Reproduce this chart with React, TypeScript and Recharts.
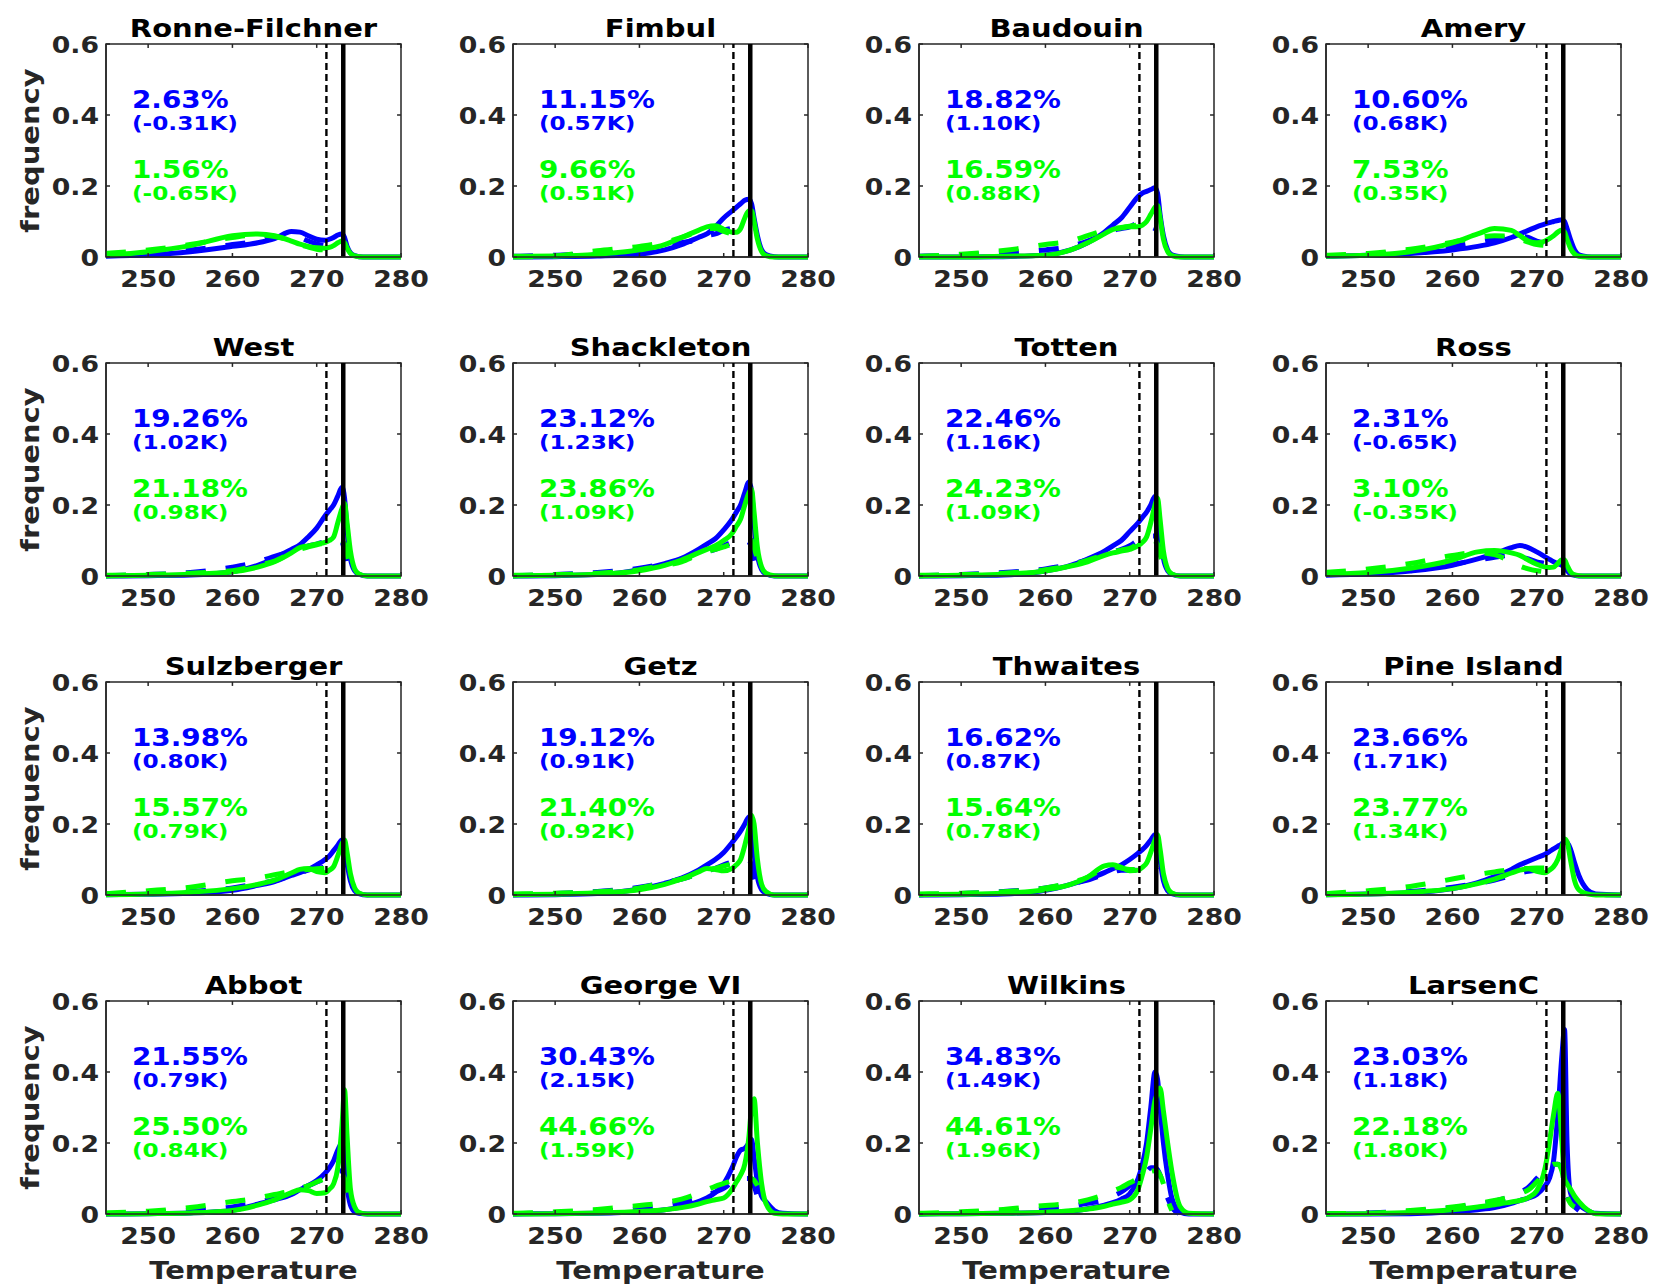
import React from 'react';
import { LineChart, Line, XAxis, YAxis, ReferenceLine, ReferenceArea } from 'recharts';

// temperature grid (K) shared by every panel
const temps = [245, 250, 255, 260, 263, 265, 267, 268, 269, 270, 271, 271.5, 272, 272.5, 273, 273.3, 273.6, 274, 274.5, 275, 276, 277, 280];

const shelfNames = [
  'Ronne-Filchner', 'Fimbul', 'Baudouin', 'Amery',
  'West', 'Shackleton', 'Totten', 'Ross',
  'Sulzberger', 'Getz', 'Thwaites', 'Pine Island',
  'Abbot', 'George VI', 'Wilkins', 'LarsenC',
];

const bluePct = ['2.63%', '11.15%', '18.82%', '10.60%', '19.26%', '23.12%', '22.46%', '2.31%', '13.98%', '19.12%', '16.62%', '23.66%', '21.55%', '30.43%', '34.83%', '23.03%'];
const blueDelta = ['(-0.31K)', '(0.57K)', '(1.10K)', '(0.68K)', '(1.02K)', '(1.23K)', '(1.16K)', '(-0.65K)', '(0.80K)', '(0.91K)', '(0.87K)', '(1.71K)', '(0.79K)', '(2.15K)', '(1.49K)', '(1.18K)'];
const greenPct = ['1.56%', '9.66%', '16.59%', '7.53%', '21.18%', '23.86%', '24.23%', '3.10%', '15.57%', '21.40%', '15.64%', '23.77%', '25.50%', '44.66%', '44.61%', '22.18%'];
const greenDelta = ['(-0.65K)', '(0.51K)', '(0.88K)', '(0.35K)', '(0.98K)', '(1.09K)', '(1.09K)', '(-0.35K)', '(0.79K)', '(0.92K)', '(0.78K)', '(1.34K)', '(0.84K)', '(1.59K)', '(1.96K)', '(1.80K)'];

const blueSolid = [
  [0.002, 0.006, 0.015, 0.03, 0.04, 0.052, 0.072, 0.07, 0.06, 0.05, 0.047, 0.05, 0.055, 0.062, 0.065, 0.055, 0.03, 0.012, 0.004, 0.001, 0, 0, 0],
  [0, 0.001, 0.003, 0.008, 0.02, 0.035, 0.055, 0.065, 0.085, 0.11, 0.13, 0.14, 0.15, 0.16, 0.163, 0.15, 0.11, 0.06, 0.02, 0.007, 0.001, 0, 0],
  [0, 0, 0.001, 0.006, 0.02, 0.04, 0.07, 0.09, 0.11, 0.14, 0.17, 0.18, 0.185, 0.19, 0.195, 0.18, 0.12, 0.06, 0.02, 0.006, 0.001, 0, 0],
  [0.002, 0.005, 0.01, 0.02, 0.03, 0.04, 0.055, 0.065, 0.075, 0.085, 0.093, 0.097, 0.1, 0.103, 0.105, 0.1, 0.08, 0.05, 0.02, 0.006, 0.001, 0, 0],
  [0, 0.001, 0.003, 0.012, 0.03, 0.05, 0.075, 0.088, 0.11, 0.135, 0.17, 0.185, 0.2, 0.225, 0.25, 0.22, 0.13, 0.05, 0.015, 0.005, 0, 0, 0],
  [0, 0.001, 0.004, 0.018, 0.035, 0.05, 0.075, 0.09, 0.105, 0.13, 0.16, 0.18, 0.2, 0.235, 0.265, 0.24, 0.15, 0.06, 0.018, 0.006, 0, 0, 0],
  [0, 0.001, 0.003, 0.014, 0.03, 0.048, 0.07, 0.085, 0.1, 0.125, 0.15, 0.165, 0.18, 0.2, 0.225, 0.2, 0.12, 0.05, 0.015, 0.005, 0, 0, 0],
  [0.002, 0.006, 0.014, 0.03, 0.048, 0.062, 0.08, 0.086, 0.08, 0.068, 0.054, 0.047, 0.04, 0.035, 0.03, 0.025, 0.015, 0.006, 0.002, 0, 0, 0, 0],
  [0.001, 0.002, 0.005, 0.013, 0.027, 0.038, 0.055, 0.063, 0.072, 0.085, 0.1, 0.11, 0.125, 0.14, 0.155, 0.14, 0.09, 0.04, 0.012, 0.004, 0, 0, 0],
  [0, 0.001, 0.004, 0.017, 0.033, 0.048, 0.07, 0.085, 0.1, 0.12, 0.148, 0.163, 0.18, 0.2, 0.22, 0.2, 0.12, 0.05, 0.015, 0.005, 0, 0, 0],
  [0, 0.001, 0.003, 0.013, 0.03, 0.045, 0.063, 0.074, 0.085, 0.1, 0.118, 0.128, 0.14, 0.155, 0.17, 0.16, 0.1, 0.04, 0.012, 0.004, 0, 0, 0],
  [0.001, 0.003, 0.006, 0.018, 0.035, 0.052, 0.072, 0.085, 0.095, 0.105, 0.115, 0.122, 0.13, 0.137, 0.145, 0.152, 0.148, 0.13, 0.09, 0.055, 0.015, 0.003, 0],
  [0, 0.001, 0.003, 0.01, 0.028, 0.04, 0.055, 0.068, 0.08, 0.094, 0.115, 0.13, 0.15, 0.18, 0.2, 0.17, 0.08, 0.025, 0.006, 0.002, 0, 0, 0],
  [0, 0.001, 0.002, 0.006, 0.012, 0.02, 0.035, 0.045, 0.06, 0.085, 0.13, 0.16, 0.18, 0.185, 0.2, 0.21, 0.16, 0.09, 0.05, 0.035, 0.01, 0.002, 0],
  [0, 0.001, 0.002, 0.004, 0.008, 0.015, 0.025, 0.032, 0.042, 0.057, 0.1, 0.14, 0.2, 0.3, 0.4, 0.38, 0.3, 0.2, 0.11, 0.045, 0.005, 0, 0],
  [0, 0, 0.001, 0.006, 0.012, 0.018, 0.03, 0.038, 0.045, 0.055, 0.08, 0.1, 0.15, 0.28, 0.45, 0.52, 0.2, 0.06, 0.035, 0.025, 0.01, 0.002, 0],
];

// dashed curves stop where the reference stops drawing them
const blueDashed = [
  [0.005, 0.01, 0.02, 0.035, 0.045, 0.055, 0.06, 0.055, 0.045, 0.037, 0.032, 0.03, 0.03, 0.03, 0.028],
  [0.002, 0.005, 0.01, 0.02, 0.03, 0.04, 0.05, 0.06, 0.065, 0.075, 0.08, 0.078, 0.072, 0.066, 0.062, 0.06],
  [0.002, 0.006, 0.012, 0.02, 0.03, 0.045, 0.065, 0.075, 0.08, 0.085, 0.095, 0.095, 0.09, 0.085, 0.08],
  [0.003, 0.008, 0.015, 0.03, 0.042, 0.05, 0.058, 0.06, 0.055, 0.045, 0.04, 0.04, 0.04, 0.04, 0.04],
  [0.001, 0.004, 0.01, 0.025, 0.04, 0.055, 0.07, 0.078, 0.085, 0.09, 0.097, 0.1, 0.1, 0.1, 0.095, 0.07, 0.03],
  [0.001, 0.004, 0.01, 0.022, 0.035, 0.045, 0.06, 0.068, 0.075, 0.085, 0.095, 0.098, 0.1, 0.1, 0.095, 0.08, 0.05, 0.02],
  [0.001, 0.004, 0.01, 0.02, 0.033, 0.045, 0.06, 0.068, 0.075, 0.085, 0.1, 0.105, 0.11, 0.113, 0.113, 0.1, 0.07, 0.03],
  [0.004, 0.01, 0.018, 0.033, 0.045, 0.053, 0.058, 0.055, 0.048, 0.04, 0.035, 0.032, 0.03, 0.03, 0.03],
  [0.002, 0.005, 0.01, 0.02, 0.032, 0.04, 0.055, 0.062, 0.07, 0.075, 0.078, 0.079, 0.08, 0.08, 0.079, 0.075],
  [0.001, 0.004, 0.01, 0.022, 0.035, 0.045, 0.06, 0.068, 0.075, 0.085, 0.093, 0.097, 0.1, 0.1, 0.097, 0.085, 0.05, 0.025, 0.01],
  [0.001, 0.004, 0.01, 0.02, 0.032, 0.042, 0.058, 0.065, 0.07, 0.07, 0.07, 0.071, 0.072, 0.073, 0.073, 0.07],
  [0.002, 0.005, 0.01, 0.022, 0.033, 0.042, 0.055, 0.062, 0.067, 0.07, 0.072, 0.073, 0.075, 0.076, 0.076, 0.075],
  [0.001, 0.004, 0.01, 0.02, 0.033, 0.045, 0.062, 0.07, 0.08, 0.09, 0.1, 0.107, 0.115, 0.12, 0.122, 0.11, 0.07],
  [0.001, 0.004, 0.008, 0.015, 0.025, 0.032, 0.045, 0.052, 0.062, 0.072, 0.09, 0.098, 0.1, 0.1, 0.1, 0.095, 0.08, 0.05, 0.03, 0.012],
  [0.001, 0.003, 0.008, 0.015, 0.022, 0.03, 0.04, 0.05, 0.062, 0.08, 0.1, 0.11, 0.12, 0.13, 0.13, 0.125, 0.11, 0.08, 0.045, 0.02, 0],
  [0.001, 0.003, 0.008, 0.018, 0.028, 0.036, 0.05, 0.06, 0.075, 0.1, 0.125, 0.135, 0.14, 0.14, 0.13, 0.1, 0.06, 0.035, 0.02, 0.01],
];

const greenSolid = [
  [0.005, 0.015, 0.032, 0.06, 0.065, 0.06, 0.045, 0.036, 0.03, 0.026, 0.025, 0.027, 0.032, 0.04, 0.045, 0.04, 0.025, 0.01, 0.003, 0.001, 0, 0, 0],
  [0.002, 0.003, 0.008, 0.02, 0.035, 0.055, 0.075, 0.085, 0.088, 0.078, 0.07, 0.07, 0.08, 0.11, 0.13, 0.13, 0.1, 0.05, 0.015, 0.004, 0, 0, 0],
  [0, 0, 0.002, 0.005, 0.02, 0.04, 0.065, 0.078, 0.082, 0.085, 0.085, 0.09, 0.1, 0.12, 0.14, 0.145, 0.11, 0.05, 0.015, 0.004, 0, 0, 0],
  [0.002, 0.005, 0.015, 0.04, 0.065, 0.08, 0.075, 0.06, 0.045, 0.04, 0.045, 0.052, 0.06, 0.07, 0.076, 0.07, 0.05, 0.025, 0.008, 0.002, 0, 0, 0],
  [0, 0.002, 0.005, 0.012, 0.025, 0.04, 0.065, 0.08, 0.085, 0.09, 0.095, 0.1, 0.11, 0.15, 0.19, 0.205, 0.15, 0.07, 0.02, 0.006, 0, 0, 0],
  [0, 0.002, 0.005, 0.015, 0.03, 0.045, 0.065, 0.075, 0.085, 0.1, 0.12, 0.14, 0.16, 0.2, 0.235, 0.245, 0.18, 0.08, 0.025, 0.008, 0.001, 0, 0],
  [0, 0.002, 0.005, 0.014, 0.028, 0.04, 0.058, 0.065, 0.07, 0.075, 0.085, 0.095, 0.11, 0.15, 0.2, 0.22, 0.16, 0.07, 0.02, 0.006, 0, 0, 0],
  [0.004, 0.01, 0.022, 0.045, 0.068, 0.072, 0.065, 0.058, 0.045, 0.033, 0.025, 0.024, 0.025, 0.035, 0.046, 0.045, 0.03, 0.012, 0.003, 0.001, 0, 0, 0],
  [0.001, 0.003, 0.008, 0.018, 0.03, 0.042, 0.062, 0.072, 0.075, 0.066, 0.063, 0.07, 0.08, 0.11, 0.145, 0.155, 0.12, 0.06, 0.02, 0.006, 0, 0, 0],
  [0.001, 0.002, 0.006, 0.015, 0.03, 0.045, 0.065, 0.075, 0.072, 0.068, 0.075, 0.085, 0.1, 0.14, 0.19, 0.225, 0.2, 0.1, 0.03, 0.01, 0, 0, 0],
  [0.001, 0.002, 0.005, 0.015, 0.03, 0.05, 0.082, 0.085, 0.078, 0.068, 0.07, 0.078, 0.09, 0.12, 0.155, 0.17, 0.13, 0.06, 0.02, 0.006, 0, 0, 0],
  [0.001, 0.003, 0.008, 0.018, 0.032, 0.045, 0.062, 0.07, 0.074, 0.067, 0.063, 0.07, 0.08, 0.1, 0.135, 0.158, 0.15, 0.1, 0.04, 0.015, 0.003, 0, 0],
  [0, 0.001, 0.003, 0.01, 0.025, 0.04, 0.06, 0.068, 0.066, 0.058, 0.06, 0.07, 0.085, 0.13, 0.25, 0.35, 0.22, 0.07, 0.02, 0.005, 0, 0, 0],
  [0, 0.001, 0.003, 0.007, 0.012, 0.018, 0.028, 0.035, 0.04, 0.045, 0.07, 0.09, 0.11, 0.14, 0.22, 0.3, 0.325, 0.2, 0.085, 0.03, 0.002, 0, 0],
  [0, 0.001, 0.002, 0.005, 0.009, 0.014, 0.022, 0.028, 0.033, 0.04, 0.07, 0.11, 0.16, 0.24, 0.32, 0.34, 0.355, 0.29, 0.2, 0.12, 0.02, 0.002, 0],
  [0, 0.001, 0.004, 0.012, 0.02, 0.026, 0.034, 0.038, 0.046, 0.065, 0.13, 0.2, 0.28, 0.34, 0.2, 0.1, 0.085, 0.07, 0.05, 0.035, 0.012, 0.001, 0],
];

const greenDashed = [
  [0.01, 0.02, 0.035, 0.055, 0.062, 0.058, 0.045, 0.035, 0.028, 0.022, 0.02, 0.02, 0.02],
  [0, 0.003, 0.018, 0.03, 0.042, 0.055, 0.072, 0.08, 0.08, 0.072, 0.065, 0.062, 0.06, 0.058, 0.055],
  [0.002, 0.008, 0.018, 0.035, 0.045, 0.06, 0.075, 0.08, 0.083, 0.087, 0.09, 0.09, 0.085, 0.082, 0.08],
  [0.005, 0.01, 0.022, 0.042, 0.055, 0.06, 0.058, 0.05, 0.042, 0.035, 0.033, 0.033, 0.033, 0.033],
  [0.002, 0.004, 0.008, 0.015, 0.03, 0.042, 0.065, 0.075, 0.082, 0.088, 0.093, 0.096, 0.098, 0.1, 0.098, 0.09, 0.06, 0.025, 0.005],
  [0.002, 0.004, 0.008, 0.018, 0.03, 0.04, 0.06, 0.068, 0.075, 0.082, 0.09, 0.095, 0.1, 0.103, 0.104, 0.1, 0.08, 0.05, 0.025, 0.008],
  [0.002, 0.004, 0.008, 0.018, 0.03, 0.045, 0.06, 0.068, 0.073, 0.078, 0.09, 0.095, 0.1, 0.1, 0.098, 0.09, 0.06, 0.03, 0.01],
  [0.01, 0.02, 0.035, 0.058, 0.066, 0.06, 0.04, 0.028, 0.02, 0.015, 0.012],
  [0.004, 0.012, 0.022, 0.04, 0.048, 0.057, 0.066, 0.07, 0.072, 0.074, 0.075, 0.076, 0.076, 0.076, 0.075, 0.074],
  [0.003, 0.005, 0.009, 0.02, 0.035, 0.045, 0.06, 0.068, 0.075, 0.082, 0.088, 0.09, 0.092, 0.095, 0.093, 0.09],
  [0.003, 0.005, 0.009, 0.02, 0.035, 0.05, 0.075, 0.08, 0.076, 0.072, 0.072, 0.073, 0.075, 0.077, 0.078, 0.075],
  [0.004, 0.012, 0.024, 0.045, 0.058, 0.065, 0.072, 0.074, 0.075, 0.076, 0.076, 0.075, 0.075, 0.074, 0.072, 0.07],
  [0.003, 0.008, 0.018, 0.035, 0.045, 0.055, 0.065, 0.072, 0.08, 0.09, 0.1, 0.105, 0.11, 0.112, 0.11, 0.1, 0.06],
  [0.002, 0.006, 0.013, 0.024, 0.032, 0.042, 0.058, 0.068, 0.078, 0.086, 0.094, 0.097, 0.1, 0.1, 0.1, 0.1, 0.095, 0.08],
  [0.002, 0.006, 0.013, 0.024, 0.03, 0.04, 0.055, 0.065, 0.075, 0.088, 0.1, 0.108, 0.115, 0.12, 0.122, 0.12, 0.11, 0.085, 0.04, 0.01],
  [0.001, 0.002, 0.01, 0.02, 0.03, 0.038, 0.05, 0.058, 0.068, 0.09, 0.115, 0.13, 0.14, 0.14, 0.12, 0.08, 0.05, 0.03, 0.02],
];

const xTicks = [250, 260, 270, 280];
const yTicks = [0, 0.2, 0.4, 0.6];
const xDomain = [245, 280];
const yDomain = [0, 0.6];
const refreezeT = 271.15; // dashed line
const meltT = 273.15; // solid line

const FONT = '"DejaVu Sans", Verdana, sans-serif';
const AXIS = '#262626';
const BLUE = '#0000ff';
const GREEN = '#00ff00';
const STRETCH = 1.16;
const LW = 5;

const COL_X = [106, 513, 919, 1326];
const ROW_Y = [44, 363, 682, 1001];
const BOX_W = 295;
const BOX_H = 213;
const LEFT = 106;
const RIGHT = 30;

const BottomTick = (props: any) => {
  const { x, y, payload } = props;
  return (
    <g>
      <line x1={x} y1={y} x2={x} y2={y - 4} stroke={AXIS} strokeWidth={1.5} />
      <text
        transform={`translate(${x},${y + 30}) scale(${STRETCH},1)`}
        textAnchor="middle"
        fontFamily={FONT}
        fontWeight="bold"
        fontSize={23}
        fill={AXIS}
      >
        {payload.value}
      </text>
    </g>
  );
};

const LeftTick = (props: any) => {
  const { x, y, payload } = props;
  return (
    <g>
      <line x1={x} y1={y} x2={x + 4} y2={y} stroke={AXIS} strokeWidth={1.5} />
      <text
        transform={`translate(${x - 7},${y + 9}) scale(${STRETCH},1)`}
        textAnchor="end"
        fontFamily={FONT}
        fontWeight="bold"
        fontSize={23}
        fill={AXIS}
      >
        {String(payload.value)}
      </text>
    </g>
  );
};

function Panel({ idx }: { idx: number }) {
  const col = idx % 4;
  const row = Math.floor(idx / 4);
  const data = temps.map((t, i) => ({
    t,
    bs: blueSolid[idx][i],
    bd: blueDashed[idx][i] ?? null,
    gs: greenSolid[idx][i],
    gd: greenDashed[idx][i] ?? null,
  }));

  return (
    <div style={{ position: 'absolute', left: COL_X[col] - LEFT, top: ROW_Y[row] - 44 }}>
      <LineChart
        width={LEFT + BOX_W + RIGHT}
        height={44 + BOX_H + 43}
        data={data}
        margin={{ top: 44, right: RIGHT, bottom: 3, left: 0 }}
      >
        <XAxis
          dataKey="t"
          type="number"
          domain={xDomain}
          ticks={xTicks}
          interval={0}
          height={40}
          tickSize={0}
          tickMargin={0}
          tickLine={false}
          tick={BottomTick}
          axisLine={{ stroke: AXIS, strokeWidth: 1.5 }}
        />
        <YAxis
          type="number"
          domain={yDomain}
          ticks={yTicks}
          interval={0}
          width={LEFT}
          tickSize={0}
          tickMargin={0}
          tickLine={false}
          tick={LeftTick}
          axisLine={{ stroke: AXIS, strokeWidth: 1.5 }}
        />
        {/* box outline and the inward ticks on the top and right edges */}
        <ReferenceArea x1={xDomain[0]} x2={xDomain[1]} y1={yDomain[0]} y2={yDomain[1]} fill="none" stroke={AXIS} strokeWidth={1.5} fillOpacity={0} />
        {xTicks.map((t) => (
          <ReferenceLine key={'tx' + t} segment={[{ x: t, y: 0.6 }, { x: t, y: 0.589 }]} stroke={AXIS} strokeWidth={1.5} />
        ))}
        {yTicks.map((v) => (
          <ReferenceLine key={'ty' + v} segment={[{ x: 280, y: v }, { x: 279.53, y: v }]} stroke={AXIS} strokeWidth={1.5} />
        ))}
        <Line dataKey="bs" type="monotone" stroke={BLUE} strokeWidth={LW} dot={false} isAnimationActive={false} />
        <Line dataKey="bd" type="monotone" stroke={BLUE} strokeWidth={LW} strokeDasharray="20 20" dot={false} isAnimationActive={false} />
        <Line dataKey="gs" type="monotone" stroke={GREEN} strokeWidth={LW} dot={false} isAnimationActive={false} />
        <Line dataKey="gd" type="monotone" stroke={GREEN} strokeWidth={LW} strokeDasharray="20 20" dot={false} isAnimationActive={false} />
        <ReferenceLine x={refreezeT} stroke="#000" strokeWidth={2.4} strokeDasharray="7 4" />
        <ReferenceLine x={meltT} stroke="#000" strokeWidth={4.5} />
      </LineChart>
    </div>
  );
}

function Stretched({ x, y, size, fill, anchor, rotate, children }: any) {
  const rot = rotate ? ` rotate(${rotate})` : '';
  return (
    <text
      transform={`translate(${x},${y})${rot} scale(${STRETCH},1)`}
      textAnchor={anchor}
      fontFamily={FONT}
      fontWeight="bold"
      fontSize={size}
      fill={fill}
    >
      {children}
    </text>
  );
}

export default function App() {
  return (
    <div style={{ position: 'absolute', left: 0, top: 0, width: 1654, height: 1284, background: '#fff', overflow: 'hidden' }}>
      {shelfNames.map((_, i) => (
        <Panel key={i} idx={i} />
      ))}
      <svg width={1654} height={1284} style={{ position: 'absolute', left: 0, top: 0, pointerEvents: 'none' }}>
        {shelfNames.map((name, i) => {
          const bx = COL_X[i % 4];
          const by = ROW_Y[Math.floor(i / 4)];
          return (
            <g key={name}>
              <Stretched x={bx + BOX_W / 2} y={by - 7} size={25} fill="#000" anchor="middle">{name}</Stretched>
              <Stretched x={bx + 26} y={by + 64} size={24} fill={BLUE} anchor="start">{bluePct[i]}</Stretched>
              <Stretched x={bx + 26} y={by + 86} size={20} fill={BLUE} anchor="start">{blueDelta[i]}</Stretched>
              <Stretched x={bx + 26} y={by + 134} size={24} fill={GREEN} anchor="start">{greenPct[i]}</Stretched>
              <Stretched x={bx + 26} y={by + 156} size={20} fill={GREEN} anchor="start">{greenDelta[i]}</Stretched>
              {i % 4 === 0 && (
                <Stretched x={bx - 67} y={by + BOX_H / 2} size={25} fill={AXIS} anchor="middle" rotate={-90}>frequency</Stretched>
              )}
              {i >= 12 && (
                <Stretched x={bx + BOX_W / 2} y={by + BOX_H + 65} size={25} fill={AXIS} anchor="middle">Temperature</Stretched>
              )}
            </g>
          );
        })}
      </svg>
    </div>
  );
}
